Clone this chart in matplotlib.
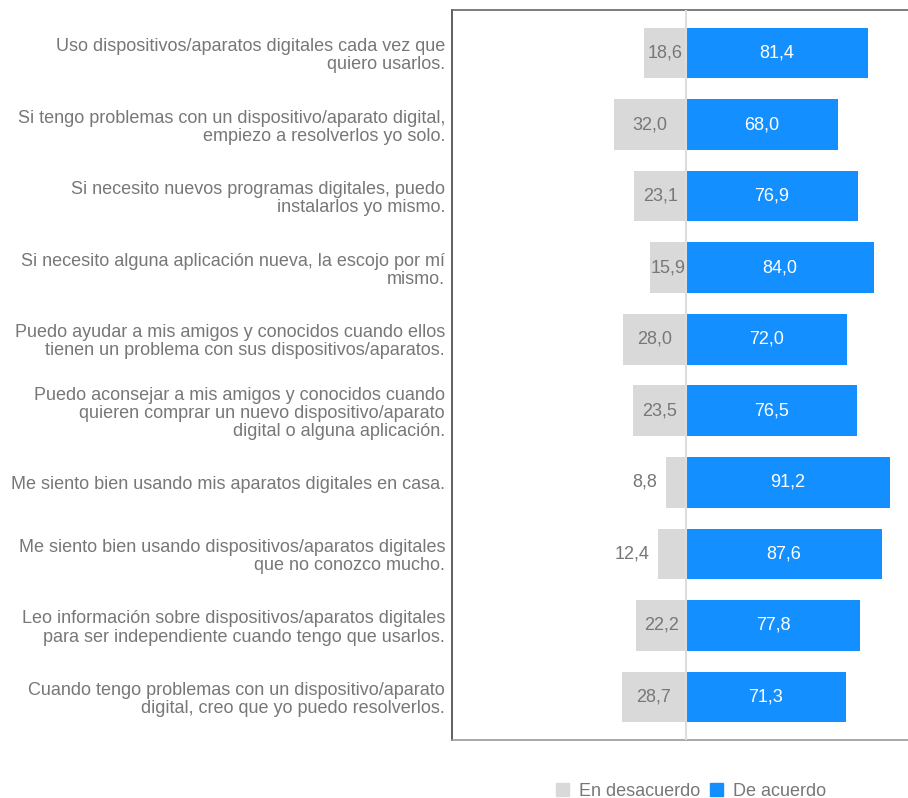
import matplotlib.pyplot as plt
from matplotlib.patches import Patch

# Data
statements = [
    'Uso dispositivos/aparatos digitales cada vez que\nquiero usarlos.',
    'Si tengo problemas con un dispositivo/aparato digital,\nempiezo a resolverlos yo solo.',
    'Si necesito nuevos programas digitales, puedo\ninstalarlos yo mismo.',
    'Si necesito alguna aplicación nueva, la escojo por mí\nmismo.',
    'Puedo ayudar a mis amigos y conocidos cuando ellos\ntienen un problema con sus dispositivos/aparatos.',
    'Puedo aconsejar a mis amigos y conocidos cuando\nquieren comprar un nuevo dispositivo/aparato\ndigital o alguna aplicación.',
    'Me siento bien usando mis aparatos digitales en casa.',
    'Me siento bien usando dispositivos/aparatos digitales\nque no conozco mucho.',
    'Leo información sobre dispositivos/aparatos digitales\npara ser independiente cuando tengo que usarlos.',
    'Cuando tengo problemas con un dispositivo/aparato\ndigital, creo que yo puedo resolverlos.',
]
desacuerdo = [18.6, 32.0, 23.1, 15.9, 28.0, 23.5, 8.8, 12.4, 22.2, 28.7]
acuerdo = [81.4, 68.0, 76.9, 84.0, 72.0, 76.5, 91.2, 87.6, 77.8, 71.3]
series_names = ['En desacuerdo', 'De acuerdo']

# Style
grey_bar = '#d9d9d9'
blue_bar = '#148fff'
text_col = '#777777'
fs = 13
plt.rcParams['font.family'] = ['Liberation Sans', 'DejaVu Sans']

def fmt(v):
    return f'{v:.1f}'.replace('.', ',')

fig = plt.figure(figsize=(9.08, 7.98), dpi=100)
ax = fig.add_axes([452 / 908, 1 - 740 / 798, 1 - 452 / 908, 730 / 798])

y = list(range(len(statements)))
neg = [-v for v in desacuerdo]
ax.barh(y, neg, height=0.71, color=grey_bar, zorder=2)
ax.barh(y, acuerdo, height=0.71, color=blue_bar, zorder=2)
ax.axvline(0, color='#dddddd', lw=1.5, zorder=3)

for yi, v in zip(y, desacuerdo):
    if v >= 15:
        ax.text(-v / 2, yi, fmt(v), ha='center', va='center', fontsize=fs, color=text_col, zorder=4)
    else:
        ax.annotate(fmt(v), (-v, yi), xytext=(-6.5, 0), textcoords='offset points',
                    ha='right', va='center', fontsize=fs, color=text_col)
for yi, v in zip(y, acuerdo):
    ax.text(v / 2, yi, fmt(v), ha='center', va='center', fontsize=fs, color='white', zorder=4)

ax.set_xlim(-104.6, 99.2)
ax.set_ylim(len(statements) - 0.4, -0.6)
ax.set_xticks([])
ax.set_yticks(y)
ax.set_yticklabels(statements, fontsize=fs, color=text_col, linespacing=1.08)
ax.tick_params(axis='y', length=0, pad=5)

ax.spines['right'].set_visible(False)
ax.spines['top'].set_color('#666666')
ax.spines['left'].set_color('#444444')
ax.spines['bottom'].set_color('#999999')
for s in ['top', 'left', 'bottom']:
    ax.spines[s].set_linewidth(1.2)

handles = [Patch(color=grey_bar), Patch(color=blue_bar)]
leg = fig.legend(handles, series_names, loc='center', ncol=2,
                 bbox_to_anchor=(691 / 908, 1 - 791 / 798), frameon=False,
                 fontsize=fs, handlelength=0.75, handleheight=0.75,
                 handletextpad=0.55, columnspacing=0.5)
for t in leg.get_texts():
    t.set_color(text_col)

fig.savefig('out.png', dpi=100)
